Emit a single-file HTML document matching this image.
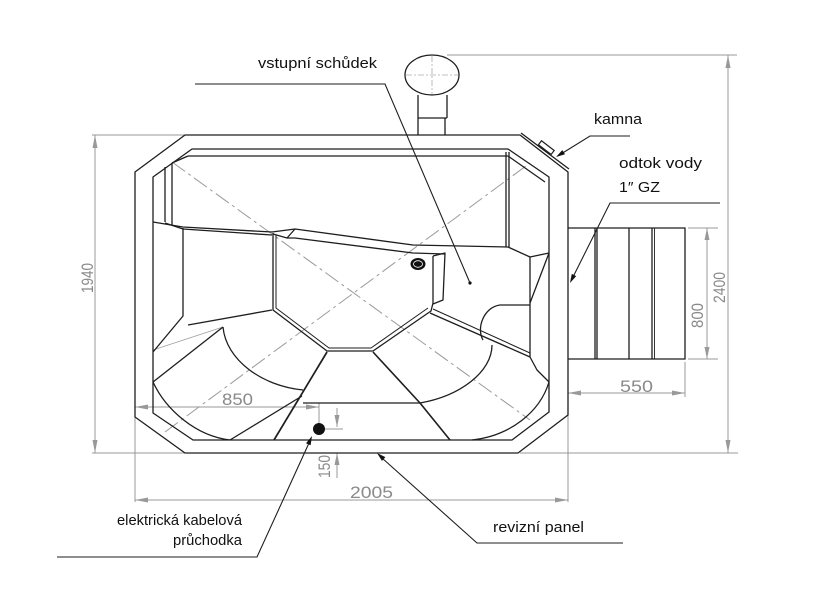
<!DOCTYPE html>
<html><head><meta charset="utf-8"><style>
html,body{margin:0;padding:0;background:#fff;}
svg{display:block;}
</style></head><body>
<svg width="828" height="609" viewBox="0 0 828 609" xmlns="http://www.w3.org/2000/svg">
<rect width="828" height="609" fill="#fff"/>

<!-- ===== gray centre lines (dashed) ===== -->
<g stroke="#9a9a9a" stroke-width="1" fill="none" stroke-dasharray="16,4,3,4">
  <line x1="172" y1="162" x2="530" y2="420"/>
  <line x1="165" y1="432" x2="530" y2="163"/>
</g>
<line x1="153" y1="350" x2="223" y2="327" stroke="#a0a0a0" stroke-width="0.9"/>

<!-- ===== dimension lines (gray) ===== -->
<g stroke="#999" stroke-width="1" fill="none">
  <!-- 2400 -->
  <line x1="447" y1="55" x2="737" y2="55"/>
  <line x1="728" y1="55" x2="728" y2="453"/>
  <line x1="520" y1="453" x2="738" y2="453"/>
  <!-- 800 -->
  <line x1="688" y1="228" x2="718" y2="228"/>
  <line x1="688" y1="359" x2="718" y2="359"/>
  <line x1="707" y1="228" x2="707" y2="359"/>
  <!-- 550 -->
  <line x1="568" y1="393" x2="685" y2="393"/>
  <line x1="685" y1="362" x2="685" y2="397"/>
  <!-- 1940 -->
  <line x1="92" y1="135" x2="185" y2="135"/>
  <line x1="92" y1="453" x2="185" y2="453"/>
  <line x1="95" y1="135" x2="95" y2="453"/>
  <!-- 2005 -->
  <line x1="135" y1="417" x2="135" y2="502"/>
  <line x1="568" y1="415" x2="568" y2="502"/>
  <line x1="135" y1="500" x2="568" y2="500"/>
  <!-- 850 -->
  <line x1="135" y1="407" x2="319" y2="407"/>
  <line x1="319" y1="403" x2="319" y2="430"/>
  <!-- 150 -->
  <line x1="337" y1="408" x2="337" y2="427"/>
  <line x1="322" y1="429" x2="343" y2="429"/>
  <line x1="337" y1="453" x2="337" y2="478"/>
</g>
<g fill="#999">
  <polygon points="728,55 725.5,68 730.5,68"/>
  <polygon points="728,453 725.5,440 730.5,440"/>
  <polygon points="707,228 704.5,240 709.5,240"/>
  <polygon points="707,359 704.5,347 709.5,347"/>
  <polygon points="568,393 581,390.5 581,395.5"/>
  <polygon points="685,393 672,390.5 672,395.5"/>
  <polygon points="95,135 92.5,148 97.5,148"/>
  <polygon points="95,453 92.5,440 97.5,440"/>
  <polygon points="135,500 148,497.5 148,502.5"/>
  <polygon points="568,500 555,497.5 555,502.5"/>
  <polygon points="135,407 148,404.5 148,409.5"/>
  <polygon points="319,407 306,404.5 306,409.5"/>
  <polygon points="337,427 334.5,415 339.5,415"/>
  <polygon points="337,453 334.5,465 339.5,465"/>
</g>

<!-- dimension labels -->
<g font-family="'Liberation Sans', 'DejaVu Sans', sans-serif" fill="#8a8a8a" font-size="17">
  <text x="222" y="405" textLength="31" lengthAdjust="spacingAndGlyphs">850</text>
  <text x="350" y="498" textLength="43" lengthAdjust="spacingAndGlyphs">2005</text>
  <text x="620" y="392" textLength="33" lengthAdjust="spacingAndGlyphs">550</text>
  <text transform="translate(93,293) rotate(-90)" textLength="30" lengthAdjust="spacingAndGlyphs">1940</text>
  <text transform="translate(725,303) rotate(-90)" textLength="31" lengthAdjust="spacingAndGlyphs">2400</text>
  <text transform="translate(703,328) rotate(-90)" textLength="25" lengthAdjust="spacingAndGlyphs">800</text>
  <text transform="translate(330,478) rotate(-90)" textLength="23" lengthAdjust="spacingAndGlyphs">150</text>
</g>

<!-- ===== tub drawing ===== -->
<g stroke="#1e1e1e" stroke-width="1.3" fill="none" stroke-linejoin="round">
  <!-- outer shell -->
  <polygon points="185,135 520,135 568,172 568,415 518,453 185,453 135,417 135,172"/>
  <!-- kamna strip -->
  <polyline points="521,133 569,169"/>
  <!-- inner shell -->
  <polygon points="192,149 508,149 549,177 549,412 512,440 193,440 153,413 153,177"/>
  <line x1="188" y1="156" x2="508" y2="156"/>
  <line x1="188" y1="156" x2="172" y2="163"/>
  <line x1="508" y1="156" x2="545" y2="182"/>
  <line x1="506" y1="152" x2="506" y2="247"/>
  <line x1="509" y1="152" x2="509" y2="247"/>
  <!-- left back bench -->
  <line x1="165" y1="167" x2="165" y2="222"/>
  <line x1="172" y1="163" x2="172" y2="225"/>
  <polyline points="153,222 183,227 272,232"/>
  <polyline points="165,223 183,229 272,235"/>
  <polyline points="183,228 183,316 153,352"/>
  <line x1="188" y1="325" x2="272" y2="310"/>
  <!-- back line across -->
  <polyline points="272,232 295,229 413,245 508,247 530,257 549,253"/>
  <polyline points="287,238 295,238 413,253 445,254"/>
  <polyline points="273,234 287,238 295,229"/>
  <!-- well -->
  <polyline points="273,233 273,310 327,351 373,351 431,311 433,303 433,256"/>
  <polyline points="276,235 276,308 329,348 371,348 428,308" stroke-width="1"/>
  <polyline points="433,256 445,253 443,300 433,304"/>
  <!-- left lounger -->
  <line x1="153" y1="382" x2="223" y2="327"/>
  <path d="M223,327 C226,360 262,386 303,390"/>
  <path d="M153,382 C166,410 196,436 230,440"/>
  <line x1="230" y1="440" x2="302" y2="396"/>
  <line x1="327" y1="352" x2="274" y2="440" stroke-width="1.7"/>
  <line x1="303" y1="403" x2="420" y2="403"/>
  <!-- right leg -->
  <polyline points="373,352 420,403 450,440" stroke-width="1.6"/>
  <!-- right seat -->
  <line x1="549" y1="253" x2="530" y2="303"/>
  <line x1="530" y1="257" x2="530" y2="357"/>
  <path d="M530,305 L500,305 C484,307 476,328 483,340"/>
  <line x1="430" y1="313" x2="530" y2="357"/>
  <line x1="433" y1="309" x2="530" y2="353" stroke-width="1"/>
  <polyline points="530,357 537,370 549,382"/>
  <path d="M492,345 C492,372 460,396 420,403"/>
  <path d="M549,382 C540,412 510,436 472,440"/>
</g>

<!-- kamna small rectangle -->
<g transform="translate(546,148) rotate(37.6)">
  <rect x="-8" y="-3" width="16" height="5" fill="none" stroke="#1e1e1e" stroke-width="1.2"/>
</g>

<!-- drain hole -->
<ellipse cx="418" cy="264" rx="7.5" ry="6" fill="#111"/>
<ellipse cx="418" cy="264" rx="4.5" ry="3.3" fill="none" stroke="#fff" stroke-width="0.8"/>
<!-- cable hole -->
<circle cx="319" cy="429" r="6" fill="#111"/>

<!-- chimney -->
<g stroke="#1e1e1e" stroke-width="1.3" fill="none">
  <ellipse cx="432" cy="75" rx="27" ry="20"/>
  <polyline points="418,95 418,135"/>
  <polyline points="447,95 447,118"/>
  <polyline points="445,118 445,135"/>
  <line x1="418" y1="118" x2="447" y2="118"/>
</g>
<g stroke="#aaa" stroke-width="0.8" stroke-dasharray="6,2,2,2">
  <line x1="432" y1="56" x2="432" y2="94"/>
  <line x1="406" y1="75" x2="458" y2="75"/>
</g>

<!-- ===== leaders ===== -->
<g stroke="#1e1e1e" stroke-width="1.1" fill="none">
  <polyline points="195,84 385,84 470,283"/>
  <polyline points="630,136 590,136 561,154"/>
  <polyline points="720,203 610,203 573,277"/>
  <polyline points="57,557 257,557 309,443"/>
  <polyline points="623,543 477,543 382,458"/>
</g>
<g fill="#111">
  <circle cx="470" cy="283" r="1.6"/>
  <polygon points="556,157 565,154.3 562.3,150.1"/>
  <polygon points="570,283 576.2,276.1 571.8,273.9"/>
  <polygon points="312,436 310.6,445.2 306,443.2"/>
  <polygon points="377,453 385.4,457.1 382,460.9"/>
</g>

<!-- ===== labels ===== -->
<g font-family="'Liberation Sans', 'DejaVu Sans', sans-serif" fill="#111" font-size="15">
  <text x="258" y="68" textLength="119" lengthAdjust="spacingAndGlyphs">vstupní schůdek</text>
  <text x="594" y="124" textLength="48" lengthAdjust="spacingAndGlyphs">kamna</text>
  <text x="619" y="168" textLength="83" lengthAdjust="spacingAndGlyphs">odtok vody</text>
  <text x="619" y="192" textLength="41" lengthAdjust="spacingAndGlyphs">1″ GZ</text>
  <text x="117" y="525" textLength="125" lengthAdjust="spacingAndGlyphs">elektrická kabelová</text>
  <text x="173" y="545" textLength="69" lengthAdjust="spacingAndGlyphs">průchodka</text>
  <text x="493" y="532" textLength="91" lengthAdjust="spacingAndGlyphs">revizní panel</text>
</g>

<!-- drain box -->
<g stroke="#1e1e1e" stroke-width="1.3" fill="none">
  <polyline points="568,228 685,228 685,359 568,359"/>
  <line x1="595" y1="228" x2="595" y2="359"/>
  <line x1="597" y1="228" x2="597" y2="359"/>
  <line x1="629" y1="228" x2="629" y2="359"/>
  <line x1="652" y1="228" x2="652" y2="359"/>
  <line x1="654.5" y1="228" x2="654.5" y2="359" stroke-width="0.9"/>
</g>
</svg>
</body></html>
